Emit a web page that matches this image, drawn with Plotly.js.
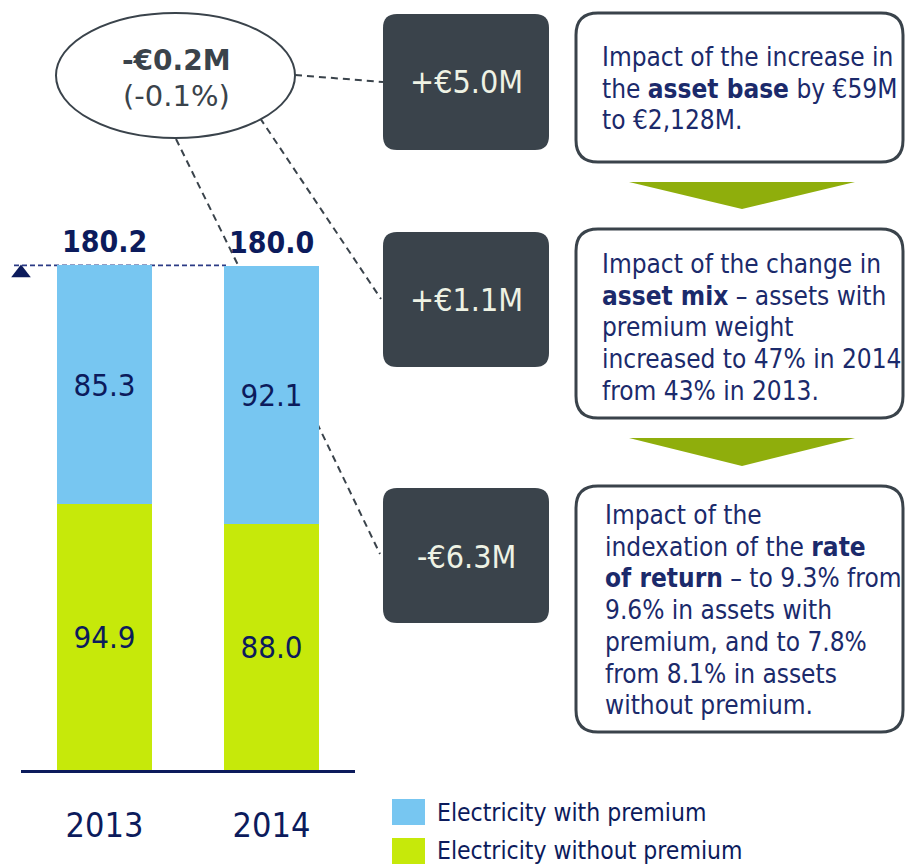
<!DOCTYPE html>
<html>
<head>
<meta charset="utf-8">
<script src="https://cdn.plot.ly/plotly-3.0.1.min.js"></script>
<style>html,body{margin:0;padding:0;background:#fff;}#chart{width:905px;height:865px;}</style>
</head>
<body>
<div id="chart"></div>
<script>
// ---- data ----
const years = ["2013", "2014"];
const withPremium = [85.3, 92.1];
const withoutPremium = [94.9, 88.0];
const totals = [180.2, 180.0];
const seriesNames = ["Electricity with premium", "Electricity without premium"];
const totalChange = "-€0.2M";
const totalChangePct = "(-0.1%)";
const impactValues = ["+€5.0M", "+€1.1M", "-€6.3M"];
const impactLines = [
  ["Impact of the increase in", "the <b>asset base</b> by €59M", "to €2,128M."],
  ["Impact of the change in", "<b>asset mix</b> – assets with", "premium weight", "increased to 47% in 2014", "from 43% in 2013."],
  ["Impact of the", "indexation of the <b>rate</b>", "<b>of return</b> – to 9.3% from", "9.6% in assets with",
   "premium, and to 7.8%", "from 8.1% in assets", "without premium."]
];

const xpos = years.map((_, i) => i);

// ---- styling / layout helpers ----
const FONT = '"DejaVu Sans Condensed", "DejaVu Sans", sans-serif';
const FONTW = '"DejaVu Sans", sans-serif';
const NAVY = '#0c1b5c';
const TXT = '#1b2a6b';
const DARK = '#3a434b';
const BLUE = '#77c6f1';
const GREEN = '#c6e90a';
const ARROW = '#8fae0c';
const L = 21, R = 355, T = 210, B = 770;
const W = 905, H = 865;
const px = p => (p - L) / (R - L);
const py = p => (B - p) / (B - T);

function roundRect(x0, y0, x1, y1, r) {
  const P = (x, y) => px(x).toFixed(5) + ',' + py(y).toFixed(5);
  return 'M' + P(x0 + r, y0) + ' L' + P(x1 - r, y0) + ' Q' + P(x1, y0) + ' ' + P(x1, y0 + r) +
    ' L' + P(x1, y1 - r) + ' Q' + P(x1, y1) + ' ' + P(x1 - r, y1) +
    ' L' + P(x0 + r, y1) + ' Q' + P(x0, y1) + ' ' + P(x0, y1 - r) +
    ' L' + P(x0, y0 + r) + ' Q' + P(x0, y0) + ' ' + P(x0 + r, y0) + ' Z';
}
function tri(x0, x1, yTop, yTip) {
  const xm = (x0 + x1) / 2;
  return 'M' + px(x0) + ',' + py(yTop) + ' L' + px(x1) + ',' + py(yTop) + ' L' + px(xm) + ',' + py(yTip) + ' Z';
}
function dline(x0, y0, x1, y1) {
  return {type: 'line', xref: 'paper', yref: 'paper', x0: px(x0), y0: py(y0), x1: px(x1), y1: py(y1),
    line: {color: DARK, width: 2, dash: '7px,5px'}, layer: 'below'};
}
function label(x, y, text, font, xanchor) {
  return {x: px(x), y: py(y), xref: 'paper', yref: 'paper', text: text, showarrow: false,
    xanchor: xanchor || 'center', yanchor: 'middle', align: xanchor === 'left' ? 'left' : 'center', font: font};
}

const traces = [
  {type: 'bar', name: seriesNames[1], x: xpos, y: withoutPremium, marker: {color: GREEN},
   width: 0.563, texttemplate: '%{y:.1f}', textposition: 'inside', insidetextanchor: 'middle',
   textangle: 0, constraintext: 'none', textfont: {family: FONT, size: 31, color: NAVY}, hoverinfo: 'skip'},
  {type: 'bar', name: seriesNames[0], x: xpos, y: withPremium, marker: {color: BLUE},
   width: 0.563, texttemplate: '%{y:.1f}', textposition: 'inside', insidetextanchor: 'middle',
   textangle: 0, constraintext: 'none', textfont: {family: FONT, size: 31, color: NAVY}, hoverinfo: 'skip'},
  {type: 'scatter', mode: 'markers', x: [-0.5], y: [totals[0] - 2.7], cliponaxis: false,
   marker: {symbol: 'triangle-up', size: 17, color: NAVY}, hoverinfo: 'skip'}
];

const shapes = [
  {type: 'line', xref: 'paper', yref: 'y', x0: px(14), x1: px(226), y0: totals[0], y1: totals[0],
   line: {color: '#2b3a85', width: 1.8, dash: '5px,3px'}, layer: 'below'},
  dline(295, 75, 383, 82),
  dline(176, 139, 238, 265),
  dline(260, 118, 381, 299),
  dline(317, 423, 380, 554),
  {type: 'circle', xref: 'paper', yref: 'paper', x0: px(56), x1: px(295), y0: py(13), y1: py(138),
   line: {color: DARK, width: 2}, fillcolor: '#ffffff'},
  {type: 'path', xref: 'paper', yref: 'paper', path: roundRect(383, 14, 549, 150, 14), fillcolor: DARK, line: {width: 0}},
  {type: 'path', xref: 'paper', yref: 'paper', path: roundRect(383, 232, 549, 367, 14), fillcolor: DARK, line: {width: 0}},
  {type: 'path', xref: 'paper', yref: 'paper', path: roundRect(383, 488, 549, 623, 14), fillcolor: DARK, line: {width: 0}},
  {type: 'path', xref: 'paper', yref: 'paper', path: roundRect(576, 13, 903, 162, 22), fillcolor: '#ffffff', line: {color: DARK, width: 3}},
  {type: 'path', xref: 'paper', yref: 'paper', path: roundRect(576, 229, 903, 418, 22), fillcolor: '#ffffff', line: {color: DARK, width: 3}},
  {type: 'path', xref: 'paper', yref: 'paper', path: roundRect(576, 486, 903, 732, 22), fillcolor: '#ffffff', line: {color: DARK, width: 3}},
  {type: 'path', xref: 'paper', yref: 'paper', path: tri(629, 855, 182, 209), fillcolor: ARROW, line: {width: 0}},
  {type: 'path', xref: 'paper', yref: 'paper', path: tri(629, 855, 438, 466), fillcolor: ARROW, line: {width: 0}},
  {type: 'rect', xref: 'paper', yref: 'paper', x0: px(392), x1: px(425), y0: py(799), y1: py(825), fillcolor: BLUE, line: {width: 0}},
  {type: 'rect', xref: 'paper', yref: 'paper', x0: px(392), x1: px(425), y0: py(838), y1: py(864), fillcolor: GREEN, line: {width: 0}}
];

const annotations = [];
years.forEach((y, i) => {
  annotations.push({x: xpos[i], y: totals[i], xref: 'x', yref: 'y', text: '<b>' + totals[i].toFixed(1) + '</b>',
    showarrow: false, xanchor: 'center', yanchor: 'middle', yshift: 24, font: {family: FONT, size: 30, color: NAVY}});
});
annotations.push(label(176, 60, '<b>' + totalChange + '</b>', {family: FONTW, size: 28, color: DARK}));
annotations.push(label(176, 96, totalChangePct, {family: FONTW, size: 29, color: DARK}));
const boxCenters = [82, 300, 557];
impactValues.forEach((v, i) => {
  annotations.push(label(466, boxCenters[i], v, {family: FONT, size: 32, color: '#eef2e4'}));
});
const firstLine = [57, 264, 515];
const lineStep = 31.7;
const textX = [600, 600, 603];
impactLines.forEach((lines, i) => {
  lines.forEach((t, j) => {
    annotations.push(label(textX[i], firstLine[i] + j * lineStep, t, {family: FONT, size: 26, color: TXT}, 'left'));
  });
});
annotations.push(label(435, 812, seriesNames[0], {family: FONT, size: 24.5, color: NAVY}, 'left'));
annotations.push(label(435, 850, seriesNames[1], {family: FONT, size: 24.5, color: NAVY}, 'left'));

const layout = {
  width: W, height: H,
  margin: {l: L, r: W - R, t: T, b: H - B, pad: 0},
  paper_bgcolor: '#ffffff', plot_bgcolor: 'rgba(0,0,0,0)',
  barmode: 'stack', showlegend: false,
  xaxis: {range: [-0.5, 1.5], tickvals: xpos, ticktext: years, showgrid: false, zeroline: false,
    showline: true, linecolor: NAVY, linewidth: 3, ticks: '', ticklabelstandoff: 23,
    tickfont: {family: FONT, size: 34, color: NAVY}, fixedrange: true},
  yaxis: {range: [0, 200], visible: false, showgrid: false, zeroline: false, fixedrange: true},
  shapes: shapes,
  annotations: annotations
};

Plotly.newPlot('chart', traces, layout, {displayModeBar: false, staticPlot: true});
</script>
</body>
</html>
